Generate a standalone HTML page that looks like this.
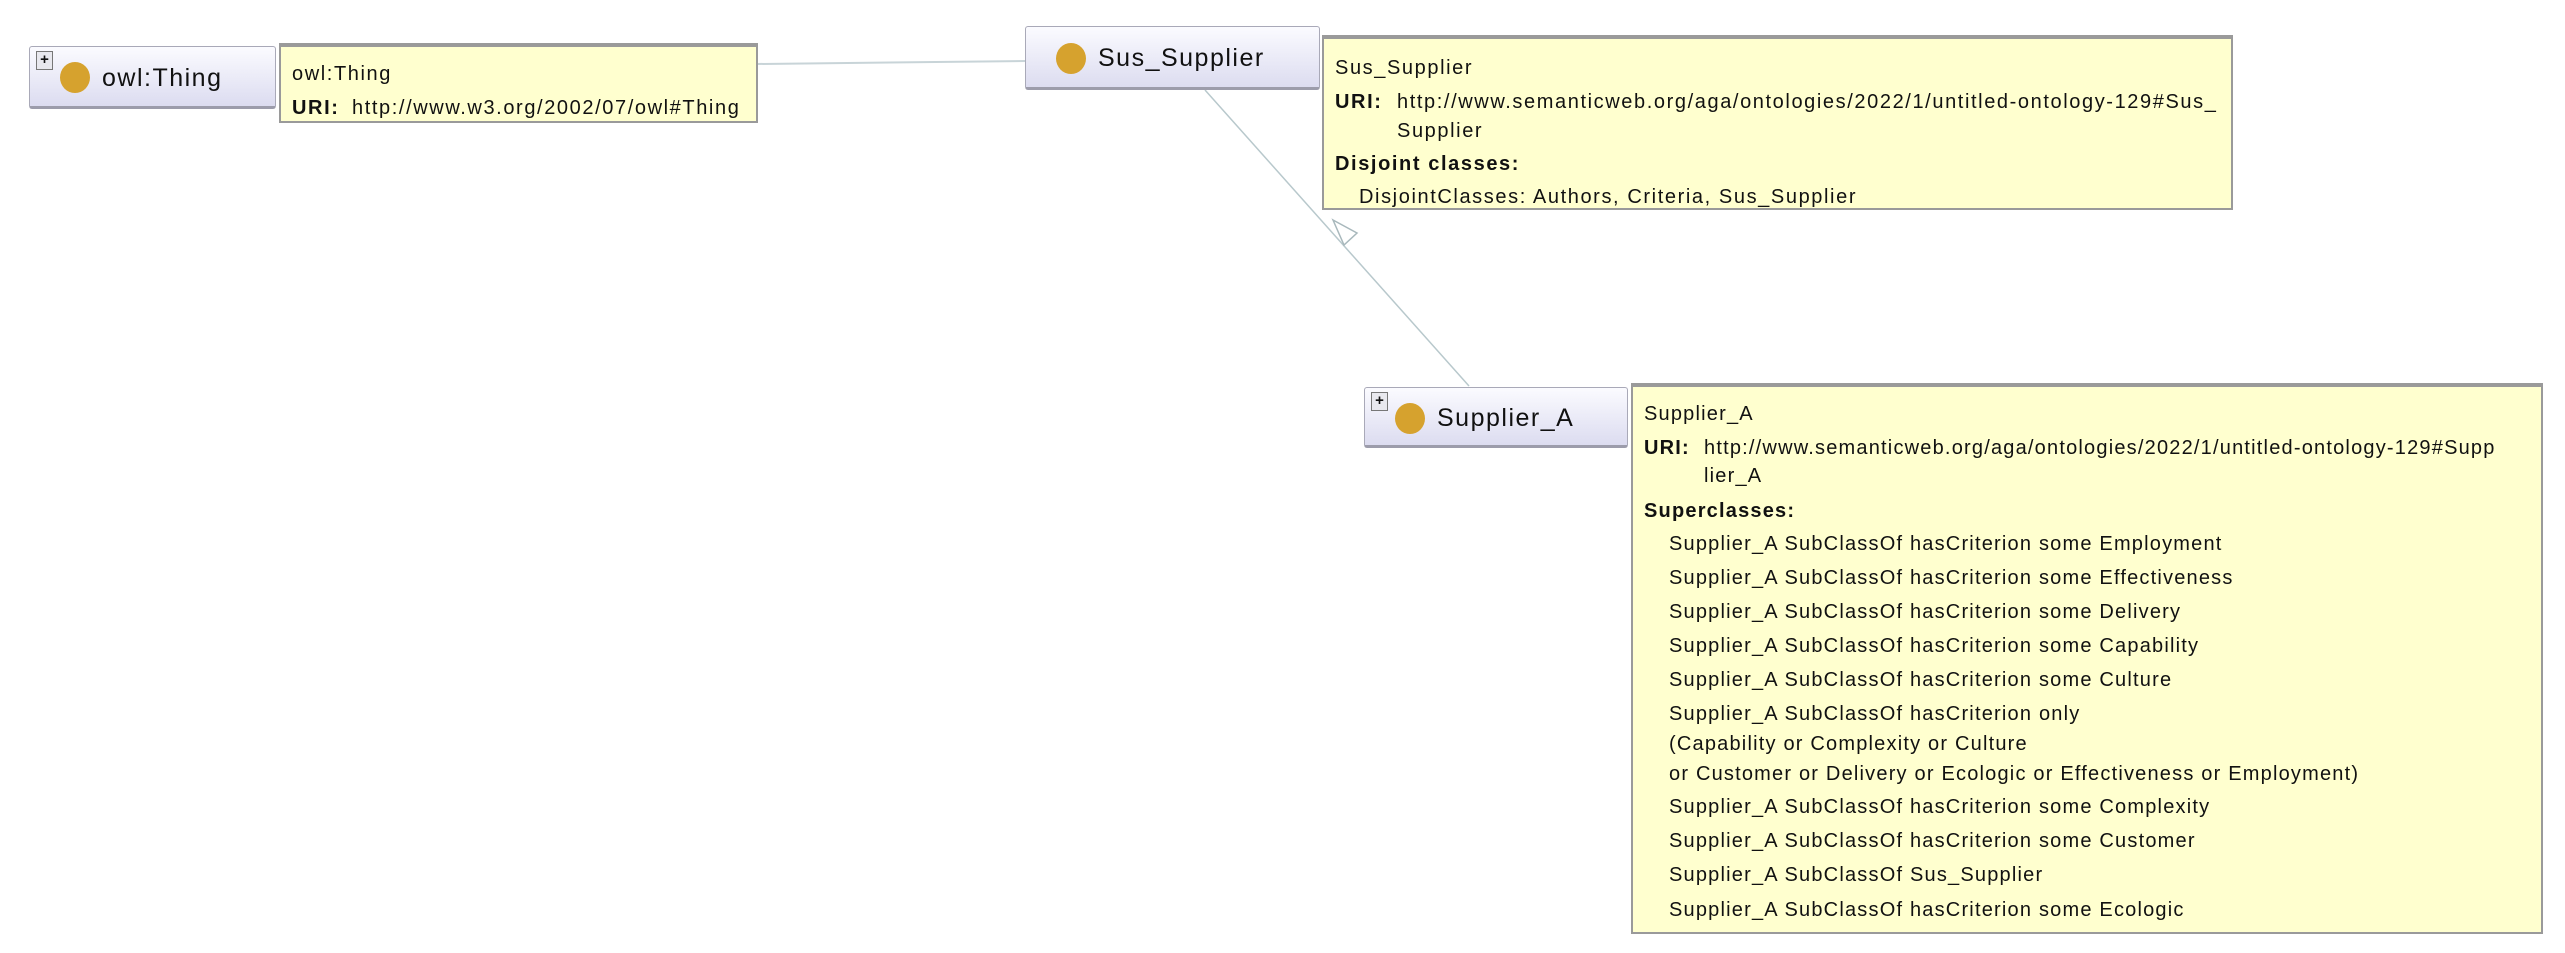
<!DOCTYPE html>
<html><head><meta charset="utf-8"><style>
body{margin:0;width:2565px;height:953px;background:#fff;position:relative;overflow:hidden;font-family:"Liberation Sans",Arial,sans-serif;color:#111}
.node{position:absolute;box-sizing:border-box;border:1px solid #a9a9b8;border-bottom:3px solid #9c9cab;border-radius:3px;background:linear-gradient(#fbfbff,#dcdcf0);}
.node .dot{position:absolute;width:30px;height:31px;border-radius:50%;background:#d6a22e}
.node .lbl{position:absolute;font-size:25px;letter-spacing:1.5px;white-space:nowrap}
.plus{position:absolute;width:15px;height:17px;border:1px solid #777;background:#e8e8ee;font-size:15px;line-height:16px;text-align:center;font-weight:bold}
.tip{position:absolute;box-sizing:border-box;background:#ffffcf;border:2px solid #9a9a9a;border-top-width:4px}
.t{position:absolute;font-size:20px;letter-spacing:1.2px;white-space:nowrap}
.s .t{letter-spacing:1.6px}
b{font-weight:bold}
</style></head><body>
<svg style="position:absolute;left:0;top:0" width="2565" height="953">
<line x1="757" y1="64" x2="1026" y2="61" stroke="#c8d4d8" stroke-width="2"/>
<line x1="1205" y1="90" x2="1469" y2="386" stroke="#b8c8cc" stroke-width="1.5"/>
<polygon points="1333,220 1357,233 1344,245" fill="#fff" stroke="#a8b8bc" stroke-width="1.5"/>
</svg>

<div class="node" style="left:29px;top:46px;width:247px;height:63px">
<div class="plus" style="left:6px;top:4px">+</div>
<div class="dot" style="left:30px;top:15px"></div>
<div class="lbl" style="left:72px;top:17px">owl:Thing</div></div>
<div class="tip s" style="left:279px;top:43px;width:479px;height:80px">
<div class="t" style="left:11px;top:16px">owl:Thing</div>
<div class="t" style="left:11px;top:50px"><b>URI:</b></div>
<div class="t" style="left:71px;top:50px">http://www.w3.org/2002/07/owl#Thing</div></div>

<div class="node" style="left:1025px;top:26px;width:295px;height:64px">
<div class="dot" style="left:30px;top:16px"></div>
<div class="lbl" style="left:72px;top:17px">Sus_Supplier</div></div>
<div class="tip s" style="left:1322px;top:35px;width:911px;height:175px">
<div class="t" style="left:11px;top:18px">Sus_Supplier</div>
<div class="t" style="left:11px;top:52px"><b>URI:</b></div>
<div class="t" style="left:73px;top:52px">http://www.semanticweb.org/aga/ontologies/2022/1/untitled-ontology-129#Sus_</div>
<div class="t" style="left:73px;top:81px">Supplier</div>
<div class="t" style="left:11px;top:114px"><b>Disjoint classes:</b></div>
<div class="t" style="left:35px;top:147px">DisjointClasses: Authors, Criteria, Sus_Supplier</div></div>

<div class="node" style="left:1364px;top:387px;width:264px;height:61px">
<div class="plus" style="left:6px;top:4px">+</div>
<div class="dot" style="left:30px;top:15px"></div>
<div class="lbl" style="left:72px;top:16px">Supplier_A</div></div>
<div class="tip" style="left:1631px;top:383px;width:912px;height:551px">
<div class="t" style="left:11px;top:16px">Supplier_A</div>
<div class="t" style="left:11px;top:50px"><b>URI:</b></div>
<div class="t" style="left:71px;top:50px">http://www.semanticweb.org/aga/ontologies/2022/1/untitled-ontology-129#Supp</div>
<div class="t" style="left:71px;top:78px">lier_A</div>
<div class="t" style="left:11px;top:113px"><b>Superclasses:</b></div>
<div class="t" style="left:36px;top:146px">Supplier_A SubClassOf hasCriterion some Employment</div>
<div class="t" style="left:36px;top:180px">Supplier_A SubClassOf hasCriterion some Effectiveness</div>
<div class="t" style="left:36px;top:214px">Supplier_A SubClassOf hasCriterion some Delivery</div>
<div class="t" style="left:36px;top:248px">Supplier_A SubClassOf hasCriterion some Capability</div>
<div class="t" style="left:36px;top:282px">Supplier_A SubClassOf hasCriterion some Culture</div>
<div class="t" style="left:36px;top:316px">Supplier_A SubClassOf hasCriterion only</div>
<div class="t" style="left:36px;top:346px">(Capability or Complexity or Culture</div>
<div class="t" style="left:36px;top:376px">or Customer or Delivery or Ecologic or Effectiveness or Employment)</div>
<div class="t" style="left:36px;top:409px">Supplier_A SubClassOf hasCriterion some Complexity</div>
<div class="t" style="left:36px;top:443px">Supplier_A SubClassOf hasCriterion some Customer</div>
<div class="t" style="left:36px;top:477px">Supplier_A SubClassOf Sus_Supplier</div>
<div class="t" style="left:36px;top:512px">Supplier_A SubClassOf hasCriterion some Ecologic</div></div>
</body></html>
